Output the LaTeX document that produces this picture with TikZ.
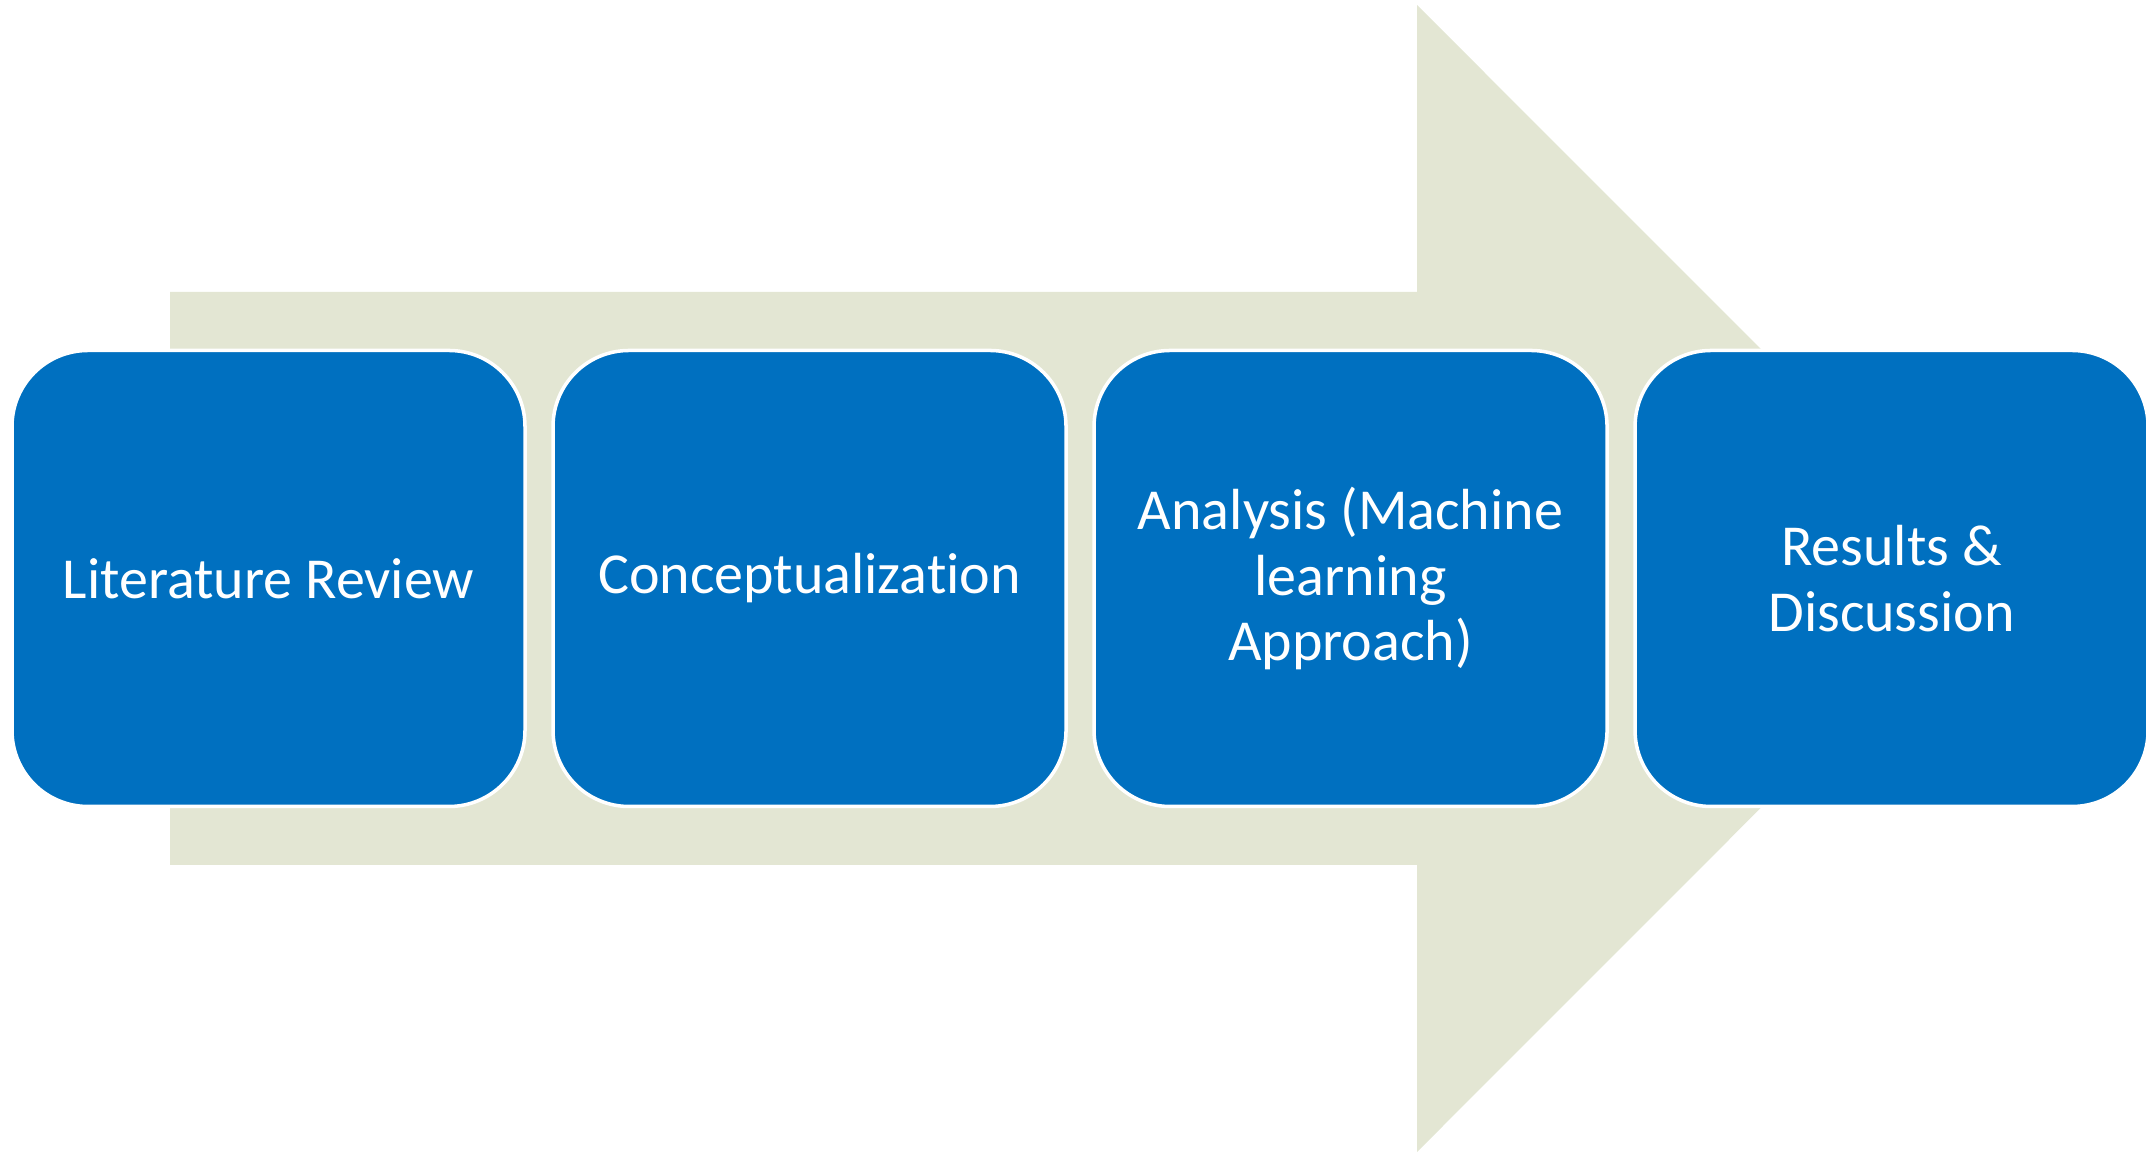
\documentclass[tikz,border=0pt]{standalone}
\usepackage{fontspec}
\setmainfont{Carlito}[Ligatures=NoCommon]
\usetikzlibrary{positioning}
\definecolor{xanhbuoc}{HTML}{0070C0}
\definecolor{nenmuiten}{HTML}{E3E6D3}
\tikzset{
	buoc/.style={rectangle,rounded corners=0.76cm,fill=xanhbuoc,draw=white,line width=1pt,
		minimum width=5.13cm,minimum height=4.56cm,inner sep=0pt,align=center,text=white,
		font=\fontsize{16.5}{18.6}\selectfont},
}
\begin{document}
\begin{tikzpicture}[x=1cm,y=1cm]
			\def\yt{5.745} % Trục giữa của mũi tên
			\def\gap{0.245} % Khoảng cách giữa hai ô
			\useasboundingbox (0,0) rectangle (21.46,11.53);
			\clip (0,0) rectangle (21.46,11.53);
			% Mũi tên lớn phía sau
			\coordinate (A) at (1.70,8.61);	\coordinate (B) at (14.17,8.61);
			\coordinate (C) at (14.17,11.48);	\coordinate (T) at (19.90,\yt); % Đỉnh mũi tên
			\coordinate (D) at (14.17,0.01);	\coordinate (E) at (14.17,2.88);
			\coordinate (F) at (1.70,2.88);
			\fill[nenmuiten] (A)--(B)--(C)--(T)--(D)--(E)--(F)--cycle;
			% Bốn ô các bước
			\node[buoc] (LR) at (2.685,\yt) {Literature Review};
			\node[buoc,right=\gap of LR] (CO) {Conceptualization};
			\node[buoc,right=\gap of CO] (AN) {Analysis (Machine\\learning\\Approach)};
			\node[buoc,right=\gap of AN] (RD) {Results \&\\Discussion};
\end{tikzpicture}
\end{document}
